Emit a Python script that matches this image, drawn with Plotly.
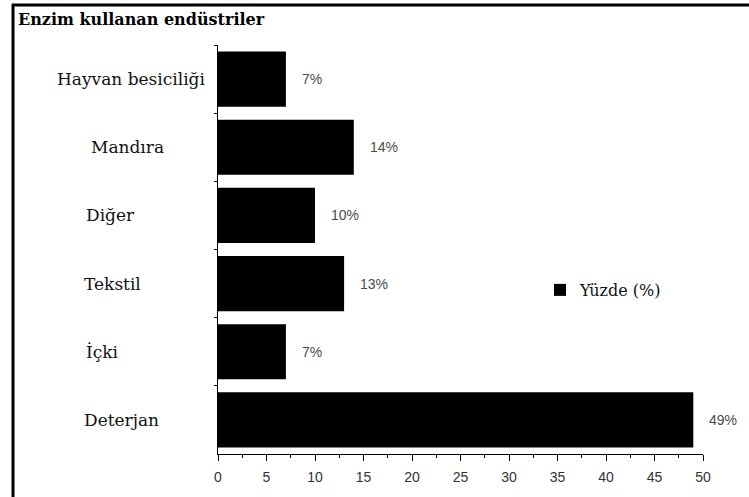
import plotly.graph_objects as go

# Industries using enzymes and their share (%)
categories = ["Hayvan besiciliği", "Mandıra", "Diğer", "Tekstil", "İçki", "Deterjan"]
shares = [7, 14, 10, 13, 7, 49]
x_ticks = [0, 5, 10, 15, 20, 25, 30, 35, 40, 45, 50]

W, H = 749, 497
M_L, M_R, M_T, M_B = 218, 46, 45, 43
PW, PH = W - M_L - M_R, H - M_T - M_B

# left edge (pixels) of each category caption
label_left_px = [55, 89, 84, 82, 84, 82]


def px_to_paper_x(px):
    return (px - M_L) / PW


def px_to_paper_y(py):
    return (H - M_B - py) / PH


SERIF = "DejaVu Serif, Liberation Serif, serif"
SANS = "Liberation Sans, Arial, sans-serif"

fig = go.Figure()
fig.add_trace(go.Bar(
    y=categories,
    x=shares,
    orientation="h",
    name="Yüzde (%)",
    marker=dict(color="#000000", line=dict(width=0)),
    showlegend=True,
))

annotations = []
# value labels to the right of each bar
for cat, val in zip(categories, shares):
    annotations.append(dict(
        x=val, y=cat, xref="x", yref="y", text=f"{val}%",
        showarrow=False, xanchor="left", yanchor="middle", xshift=14,
        font=dict(family=SANS, size=14, color="#4a4a4a"),
    ))
# category captions
for cat, left in zip(categories, label_left_px):
    annotations.append(dict(
        x=px_to_paper_x(left), y=cat, xref="paper", yref="y", text=cat,
        showarrow=False, xanchor="left", yanchor="middle",
        font=dict(family=SERIF, size=17, color="#111111"),
    ))

# frame lines along the top and left edges
shapes = [
    dict(type="line", xref="paper", yref="paper",
         x0=px_to_paper_x(12), x1=px_to_paper_x(W + 2),
         y0=px_to_paper_y(5), y1=px_to_paper_y(5),
         line=dict(color="#000000", width=3)),
    dict(type="line", xref="paper", yref="paper",
         x0=px_to_paper_x(13), x1=px_to_paper_x(13),
         y0=px_to_paper_y(4), y1=px_to_paper_y(H + 2),
         line=dict(color="#000000", width=3)),
]

fig.update_layout(
    width=W, height=H,
    margin=dict(l=M_L, r=M_R, t=M_T, b=M_B),
    paper_bgcolor="#ffffff", plot_bgcolor="#ffffff",
    bargap=0.19,
    title=dict(
        text="<b>Enzim kullanan endüstriler</b>",
        xref="container", yref="container",
        x=18 / W, xanchor="left", y=1 - 19 / H, yanchor="middle",
        font=dict(family=SERIF, size=16, color="#000000"),
    ),
    xaxis=dict(
        range=[0, 50], tickvals=x_ticks, ticktext=[str(t) for t in x_ticks],
        showgrid=False, zeroline=False,
        showline=True, linecolor="#000000", linewidth=1,
        ticks="outside", ticklen=6, tickcolor="#000000", tickwidth=1,
        minor=dict(dtick=2.5, ticks="outside", ticklen=3, tickcolor="#000000", showgrid=False),
        ticklabelstandoff=4,
        tickfont=dict(family=SANS, size=14, color="#333333"),
        fixedrange=True,
    ),
    yaxis=dict(
        categoryorder="array", categoryarray=categories, autorange="reversed",
        showticklabels=False, showgrid=False, zeroline=False,
        showline=True, linecolor="#000000", linewidth=1,
        ticks="outside", tickson="boundaries", ticklen=3, tickcolor="#000000",
        fixedrange=True,
    ),
    legend=dict(
        x=px_to_paper_x(540), y=px_to_paper_y(290),
        xanchor="left", yanchor="middle",
        bgcolor="rgba(0,0,0,0)",
        font=dict(family=SERIF, size=16, color="#111111"),
    ),
    annotations=annotations,
    shapes=shapes,
)

fig.write_html("out.html")
